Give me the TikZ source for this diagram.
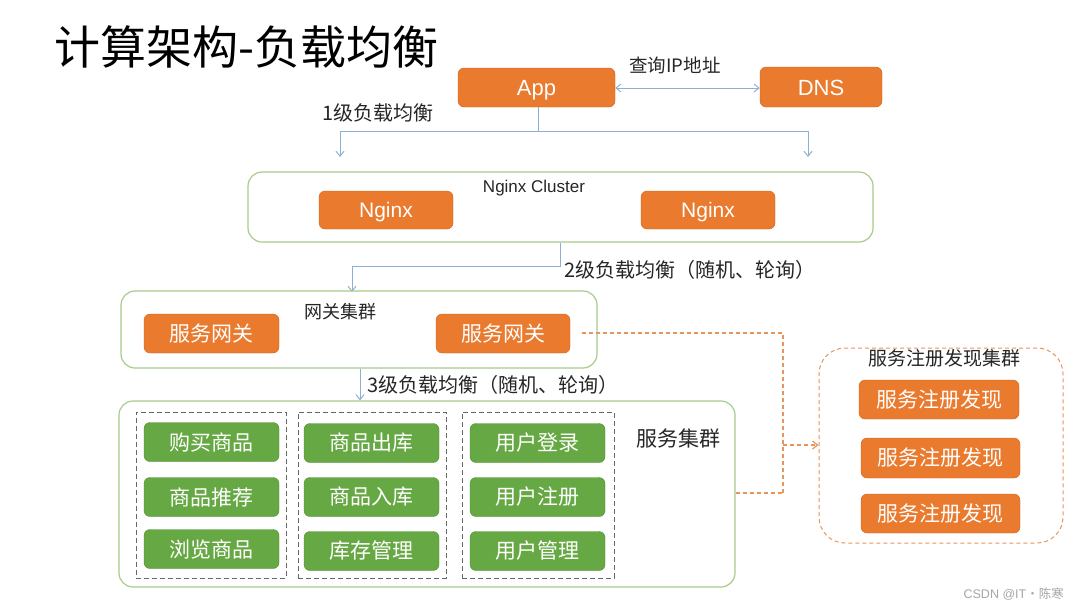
\documentclass[tikz,border=0pt]{standalone}
\usepackage{fontspec}
\setmainfont{Liberation Sans}
\newfontfamily\cjk{Noto Sans CJK SC}
\usetikzlibrary{arrows.meta}
\definecolor{orbg}{HTML}{E97A2E}
\definecolor{orbd}{HTML}{D0661F}
\definecolor{grbg}{HTML}{66A843}
\definecolor{grbd}{HTML}{4E8E30}
\definecolor{clbd}{HTML}{A8CC8C}
\definecolor{arr}{HTML}{8DB0D4}
\definecolor{dsh}{HTML}{E8955A}
\definecolor{txt}{HTML}{262626}
\tikzset{
  obox/.style={rectangle, rounded corners=6pt, fill=orbg, draw=orbd, text=white, inner sep=0pt},
  latin/.style={text height=#1, text depth=0pt},
  gbox/.style={rectangle, rounded corners=6pt, fill=grbg, draw=grbd, text=white, inner sep=0pt, minimum width=135, minimum height=39, font=\cjk\fontsize{21}{21}\selectfont},
  cluster/.style={rectangle, rounded corners=14pt, draw=clbd, line width=1.2pt, inner sep=0pt},
  grp/.style={rectangle, draw=gray!80!black, dashed, dash pattern=on 5pt off 3pt, line width=1pt, inner sep=0pt},
  lbl/.style={text=txt, inner sep=0pt, font=\cjk\fontsize{20}{20}\selectfont},
  link/.style={draw=arr, line width=1pt, -{Straight Barb[length=5pt,width=8pt]}},
  dlink/.style={draw=dsh, line width=1.2pt, dashed, dash pattern=on 4pt off 3pt}
}
\begin{document}
\begin{tikzpicture}[x=1pt,y=-1pt]
\useasboundingbox[fill=white] (0,0) rectangle (1078,611);
% title
\node[anchor=west, inner sep=0pt, text=black, font=\cjk\fontsize{46}{46}\selectfont] (title) at (54,47) {计算架构-负载均衡};
% App and DNS
\node[obox, latin=16pt, minimum width=157, minimum height=39, font=\fontsize{22}{22}\selectfont] (app) at (536.5,87.5) {App};
\node[obox, latin=16pt, minimum width=122, minimum height=40, font=\fontsize{22}{22}\selectfont] (dns) at (821,87) {DNS};
\draw[draw=arr, line width=1pt, {Straight Barb[length=5pt,width=8pt]}-{Straight Barb[length=5pt,width=8pt]}] (app.east |- 0,88) -- (dns.west |- 0,88);
\node[lbl, font=\cjk\fontsize{18.5}{18.5}\selectfont] (qip) at (675,65) {查询IP地址};
% level 1
\coordinate (j1) at (538,131);
\coordinate (l1a) at (340,131);
\coordinate (l1b) at (808,131);
\coordinate (e1a) at (340,157);
\coordinate (e1b) at (808,157);
\draw[draw=arr, line width=1pt] (app.south -| j1) -- (j1);
\draw[link] (j1) -- (l1a) -- (e1a);
\draw[link] (j1) -- (l1b) -- (e1b);
\node[lbl, anchor=west] (lv1) at (322,113) {1级负载均衡};
% Nginx cluster
\node[cluster, minimum width=625, minimum height=70] (ngc) at (560.5,207) {};
\node[inner sep=0pt, text=txt, font=\fontsize{17}{17}\selectfont] (ngl) at (534,188) {Nginx Cluster};
\node[obox, latin=15pt, minimum width=134, minimum height=38, font=\fontsize{21}{21}\selectfont] (ng1) at (386,210) {Nginx};
\node[obox, latin=15pt, minimum width=134, minimum height=38, font=\fontsize{21}{21}\selectfont] (ng2) at (708,210) {Nginx};
% level 2
\coordinate (j2) at (560,266);
\coordinate (l2) at (352,266);
\coordinate (e2) at (352,292);
\draw[link] (ngc.south -| j2) -- (j2) -- (l2) -- (e2);
\node[lbl, anchor=west] (lv2) at (564,270) {2级负载均衡（随机、轮询）};
% gateway cluster
\node[cluster, minimum width=476, minimum height=77] (gwc) at (359,329.5) {};
\node[lbl, font=\cjk\fontsize{18}{18}\selectfont] (gwl) at (340,312) {网关集群};
\node[obox, minimum width=135, minimum height=39, font=\cjk\fontsize{21}{21}\selectfont] (gw1) at (211.5,333.5) {服务网关};
\node[obox, minimum width=134, minimum height=39, font=\cjk\fontsize{21}{21}\selectfont] (gw2) at (503,333.5) {服务网关};
% level 3
\node[cluster, minimum width=616, minimum height=186] (svc) at (427,494) {};
\draw[link] (gwc.south -| 360,0) -- (svc.north -| 360,0);
\node[lbl, anchor=west] (lv3) at (367,385) {3级负载均衡（随机、轮询）};
\node[lbl, font=\cjk\fontsize{21}{21}\selectfont] (svl) at (678,438) {服务集群};
% groups
\node[grp, minimum width=150, minimum height=166] (g1) at (211,495) {};
\node[grp, minimum width=148, minimum height=166] (g2) at (372,495) {};
\node[grp, minimum width=152, minimum height=166] (g3) at (538,495) {};
\node[gbox] (a1) at (211.5,442) {购买商品};
\node[gbox] (a2) at (211.5,497) {商品推荐};
\node[gbox] (a3) at (211.5,549) {浏览商品};
\node[gbox] (b1) at (371.5,443) {商品出库};
\node[gbox] (b2) at (371.5,497) {商品入库};
\node[gbox] (b3) at (371.5,551) {库存管理};
\node[gbox] (c1) at (537.5,443) {用户登录};
\node[gbox] (c2) at (537.5,497) {用户注册};
\node[gbox] (c3) at (537.5,551) {用户管理};
% registry cluster
\node[rectangle, rounded corners=26pt, draw=dsh, dashed, dash pattern=on 4pt off 3pt, line width=1pt, minimum width=244, minimum height=195, inner sep=0pt] (reg) at (941,445.5) {};
\node[lbl, font=\cjk\fontsize{19}{19}\selectfont] (rgl) at (944,358) {服务注册发现集群};
\node[obox, minimum width=160, minimum height=39, font=\cjk\fontsize{21}{21}\selectfont] (r1) at (939,399.5) {服务注册发现};
\node[obox, minimum width=159, minimum height=40, font=\cjk\fontsize{21}{21}\selectfont] (r2) at (940.5,458) {服务注册发现};
\node[obox, minimum width=159, minimum height=39, font=\cjk\fontsize{21}{21}\selectfont] (r3) at (940.5,513.5) {服务注册发现};
% dashed connectors
\coordinate (d1) at (783,333);
\coordinate (d2) at (783,493);
\coordinate (d3) at (783,445);
\draw[dlink] (gw2.east |- d1) ++(12,0) -- (d1) -- (d2);
\draw[dlink] (svc.east |- d2) -- (d2);
\draw[dlink, -{Straight Barb[length=5pt,width=8pt]}] (d3) -- (reg.west |- d3);
% watermark
\node[anchor=east, inner sep=0pt, text=gray!70, font=\fontsize{12.5}{12.5}\selectfont] (wm) at (1064,594) {CSDN @IT{\cjk ·陈寒}};
\end{tikzpicture}
\end{document}
